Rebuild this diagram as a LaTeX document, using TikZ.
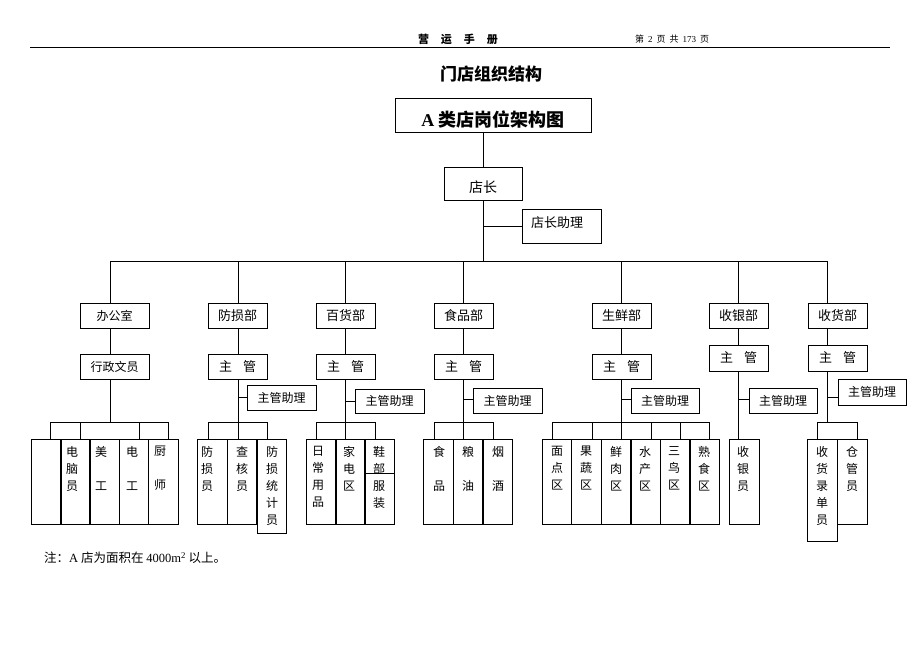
\documentclass[tikz,border=0pt]{standalone}
\usepackage{fontspec}
\setmainfont{Noto Sans CJK SC}
\newfontfamily\lat{Liberation Serif}
\begin{document}
\begin{tikzpicture}[x=1pt,y=-1pt,
  box/.style={draw, line width=0.9pt, inner sep=0pt, font=\fontsize{13}{15}\selectfont},
  ln/.style={line width=0.9pt},
  leaf/.style={draw, line width=0.9pt, inner sep=0pt, minimum width=29.5pt, minimum height=85pt},
  lt/.style={inner sep=0pt, align=center, anchor=north, font=\fontsize{12}{17}\selectfont},
  aide/.style={box, minimum width=69pt, minimum height=25pt, font=\fontsize{12}{14}\selectfont},
  dept/.style={box, minimum width=59pt, minimum height=25pt},
]
\useasboundingbox (0,0) rectangle (920,651);
% header
\node[font=\bfseries\fontsize{11}{12}\selectfont] (hd) at (458,39) {营\hspace{12pt}运\hspace{12pt}手\hspace{12pt}册};
\node[font=\fontsize{9}{10}\selectfont] (pg) at (672,39.5) {第\hspace{4pt}{\lat 2}\hspace{4pt}页\hspace{4pt}共\hspace{4pt}{\lat 173}\hspace{4pt}页};
\draw[line width=1pt] (30,47.5) -- (890,47.5);
% title
\node[font=\bfseries\fontsize{17}{20}\selectfont] (title) at (491,74) {门店组织结构};
\node[box, minimum width=196pt, minimum height=34pt] (tb) at (493,115) {};
\node[font=\bfseries\fontsize{18}{20}\selectfont] (tbt) at (493,120) {{\lat A} 类店岗位架构图};
% store manager
\node[box, minimum width=78pt, minimum height=33pt] (dz) at (483,183.5) {};
\node[font=\fontsize{14}{16}\selectfont] (dzt) at (483,187) {店长};
\node[box, minimum width=79pt, minimum height=34pt] (dzzl) at (561.5,226) {};
\node[font=\fontsize{13}{15}\selectfont] (dzzlt) at (557,223) {店长助理};
% trunk coordinates
\coordinate (b1) at (110,261);
\coordinate (b2) at (238,261);
\coordinate (b3) at (345,261);
\coordinate (b4) at (463,261);
\coordinate (b5) at (621,261);
\coordinate (b6) at (738,261);
\coordinate (b7) at (827,261);
\draw[ln] (tb.south -| dz.north) -- (dz.north);
\draw[ln] (dz.south) -- (dz.south |- b1);
\draw[ln] (dz.south |- dzzl.west) -- (dzzl.west);
\draw[ln] (b1) -- (b7);
% departments
\node[box, minimum width=69pt, minimum height=25pt, font=\fontsize{12}{14}\selectfont] (d1) at (114.5,315.5) {办公室};
\node[dept] (d2) at (237.5,315.5) {防损部};
\node[dept] (d3) at (345.5,315.5) {百货部};
\node[dept] (d4) at (463.5,315.5) {食品部};
\node[dept] (d5) at (621.5,315.5) {生鲜部};
\node[dept] (d6) at (738.5,315.5) {收银部};
\node[dept] (d7) at (837.5,315.5) {收货部};
% supervisors
\node[box, minimum width=69pt, minimum height=25pt, font=\fontsize{12}{14}\selectfont] (s1) at (114.5,367) {行政文员};
\node[dept] (s2) at (237.5,366.5) {主\hspace{11pt}管};
\node[dept] (s3) at (345.5,366.5) {主\hspace{11pt}管};
\node[dept] (s4) at (463.5,366.5) {主\hspace{11pt}管};
\node[dept] (s5) at (621.5,366.5) {主\hspace{11pt}管};
\node[dept, minimum height=26pt] (s6) at (738.5,358) {主\hspace{11pt}管};
\node[dept, minimum height=26pt] (s7) at (837.5,358) {主\hspace{11pt}管};
\foreach \i in {1,...,7}{
  \draw[ln] (b\i) -- (b\i |- d\i.north);
  \draw[ln] (b\i |- d\i.south) -- (b\i |- s\i.north);
}
% assistants
\node[aide] (a2) at (281.5,397.5) {主管助理};
\node[aide, minimum height=24pt] (a3) at (389.5,401) {主管助理};
\node[aide] (a4) at (507.5,400.5) {主管助理};
\node[aide, minimum width=68pt] (a5) at (665,400.5) {主管助理};
\node[aide, minimum width=68pt] (a6) at (783,400.5) {主管助理};
\node[aide, minimum width=68pt, minimum height=26pt] (a7) at (872,392) {主管助理};
\coordinate (j2) at (238,397.5);
\coordinate (j3) at (345,401);
\coordinate (j4) at (463,399);
\coordinate (j5) at (621,399);
\coordinate (j6) at (738,399);
\coordinate (j7) at (827,397);
\foreach \i in {2,...,7}{
  \draw[ln] (j\i) -- (j\i -| a\i.west);
}
% leaves: office
\node[leaf, minimum width=30pt] (o1) at (46,481.5) {};
\node[leaf] (o2) at (75.5,481.5) {};
\node[leaf] (o3) at (104.5,481.5) {};
\node[leaf] (o4) at (134,481.5) {};
\node[leaf] (o5) at (163.5,481.5) {};
\node[lt] (o2t) at (72,446) {电\\脑\\员};
\node[lt] (o3t) at (101,446) {美\\[17pt]工};
\node[lt] (o4t) at (132,446) {电\\[17pt]工};
\node[lt] (o5t) at (160,446) {厨\\[17pt]师};
% leaves: loss prevention
\node[leaf] (f1) at (212.5,481.5) {};
\node[leaf] (f2) at (242,481.5) {};
\node[leaf, minimum height=94pt] (f3) at (272,486) {};
\node[lt] (f1t) at (207,446) {防\\损\\员};
\node[lt] (f2t) at (242,446) {查\\核\\员};
\node[lt] (f3t) at (272,446) {防\\损\\统\\计\\员};
% leaves: general merchandise
\node[leaf] (h1) at (321.5,481.5) {};
\node[leaf] (h2) at (350.5,481.5) {};
\node[leaf] (h3) at (379.5,481.5) {};
\draw[ln] (h3.west |- 0,473) -- (h3.east |- 0,473);
\node[lt] (h1t) at (318,446) {日\\常\\用\\品};
\node[lt] (h2t) at (349,446) {家\\电\\区};
\node[lt] (h3t) at (379,446) {鞋\\部\\服\\装};
% leaves: food
\node[leaf] (fd1) at (438.5,481.5) {};
\node[leaf] (fd2) at (468,481.5) {};
\node[leaf] (fd3) at (498,481.5) {};
\node[lt] (fd1t) at (439,446) {食\\[17pt]品};
\node[lt] (fd2t) at (468,446) {粮\\[17pt]油};
\node[lt] (fd3t) at (498,446) {烟\\[17pt]酒};
% leaves: fresh
\node[leaf] (fr1) at (557,481.5) {};
\node[leaf] (fr2) at (586.5,481.5) {};
\node[leaf] (fr3) at (616,481.5) {};
\node[leaf] (fr4) at (646,481.5) {};
\node[leaf] (fr5) at (675.5,481.5) {};
\node[leaf] (fr6) at (704.5,481.5) {};
\node[lt] (fr1t) at (557,446) {面\\点\\区};
\node[lt] (fr2t) at (586,446) {果\\蔬\\区};
\node[lt] (fr3t) at (616,446) {鲜\\肉\\区};
\node[lt] (fr4t) at (645,446) {水\\产\\区};
\node[lt] (fr5t) at (674,446) {三\\鸟\\区};
\node[lt] (fr6t) at (704,446) {熟\\食\\区};
% leaves: cashier
\node[leaf, minimum width=30pt] (c1) at (744,481.5) {};
\node[lt] (c1t) at (743,446) {收\\银\\员};
% leaves: receiving
\node[leaf, minimum width=30pt, minimum height=102pt] (r1) at (822,490) {};
\node[leaf, minimum width=30pt] (r2) at (852,481.5) {};
\node[lt] (r1t) at (822,446) {收\\货\\录\\单\\员};
\node[lt] (r2t) at (852,446) {仓\\管\\员};
% lower trunks
\coordinate (k1) at (110,422);
\coordinate (k7) at (827,422);
\draw[ln] (b1 |- s1.south) -- (k1);
\draw[ln] (b2 |- s2.south) -- (b2 |- f1.north);
\draw[ln] (b3 |- s3.south) -- (b3 |- h1.north);
\draw[ln] (b4 |- s4.south) -- (b4 |- fd1.north);
\draw[ln] (b5 |- s5.south) -- (b5 |- fr1.north);
\draw[ln] (b6 |- s6.south) -- (b6 |- c1.north);
\draw[ln] (b7 |- s7.south) -- (k7);
% brackets
\draw[ln] (50,422) -- (168,422);
\foreach \x in {50,80,139,168} \draw[ln] (\x,422) -- (\x,422 |- o1.north);
\draw[ln] (208,422) -- (267,422);
\foreach \x in {208,267} \draw[ln] (\x,422) -- (\x,422 |- f1.north);
\draw[ln] (316,422) -- (375,422);
\foreach \x in {316,375} \draw[ln] (\x,422) -- (\x,422 |- h1.north);
\draw[ln] (434,422) -- (493,422);
\foreach \x in {434,493} \draw[ln] (\x,422) -- (\x,422 |- fd1.north);
\draw[ln] (552,422) -- (709,422);
\foreach \x in {552,592,651,680,709} \draw[ln] (\x,422) -- (\x,422 |- fr1.north);
\draw[ln] (817,422) -- (857,422);
\foreach \x in {817,857} \draw[ln] (\x,422) -- (\x,422 |- r1.north);
% note
\node[anchor=west, inner sep=0pt, font=\fontsize{12.5}{14}\selectfont] (note) at (44,558) {注：{\lat A} 店为面积在 {\lat 4000m\textsuperscript{2}} 以上。};
\end{tikzpicture}
\end{document}
